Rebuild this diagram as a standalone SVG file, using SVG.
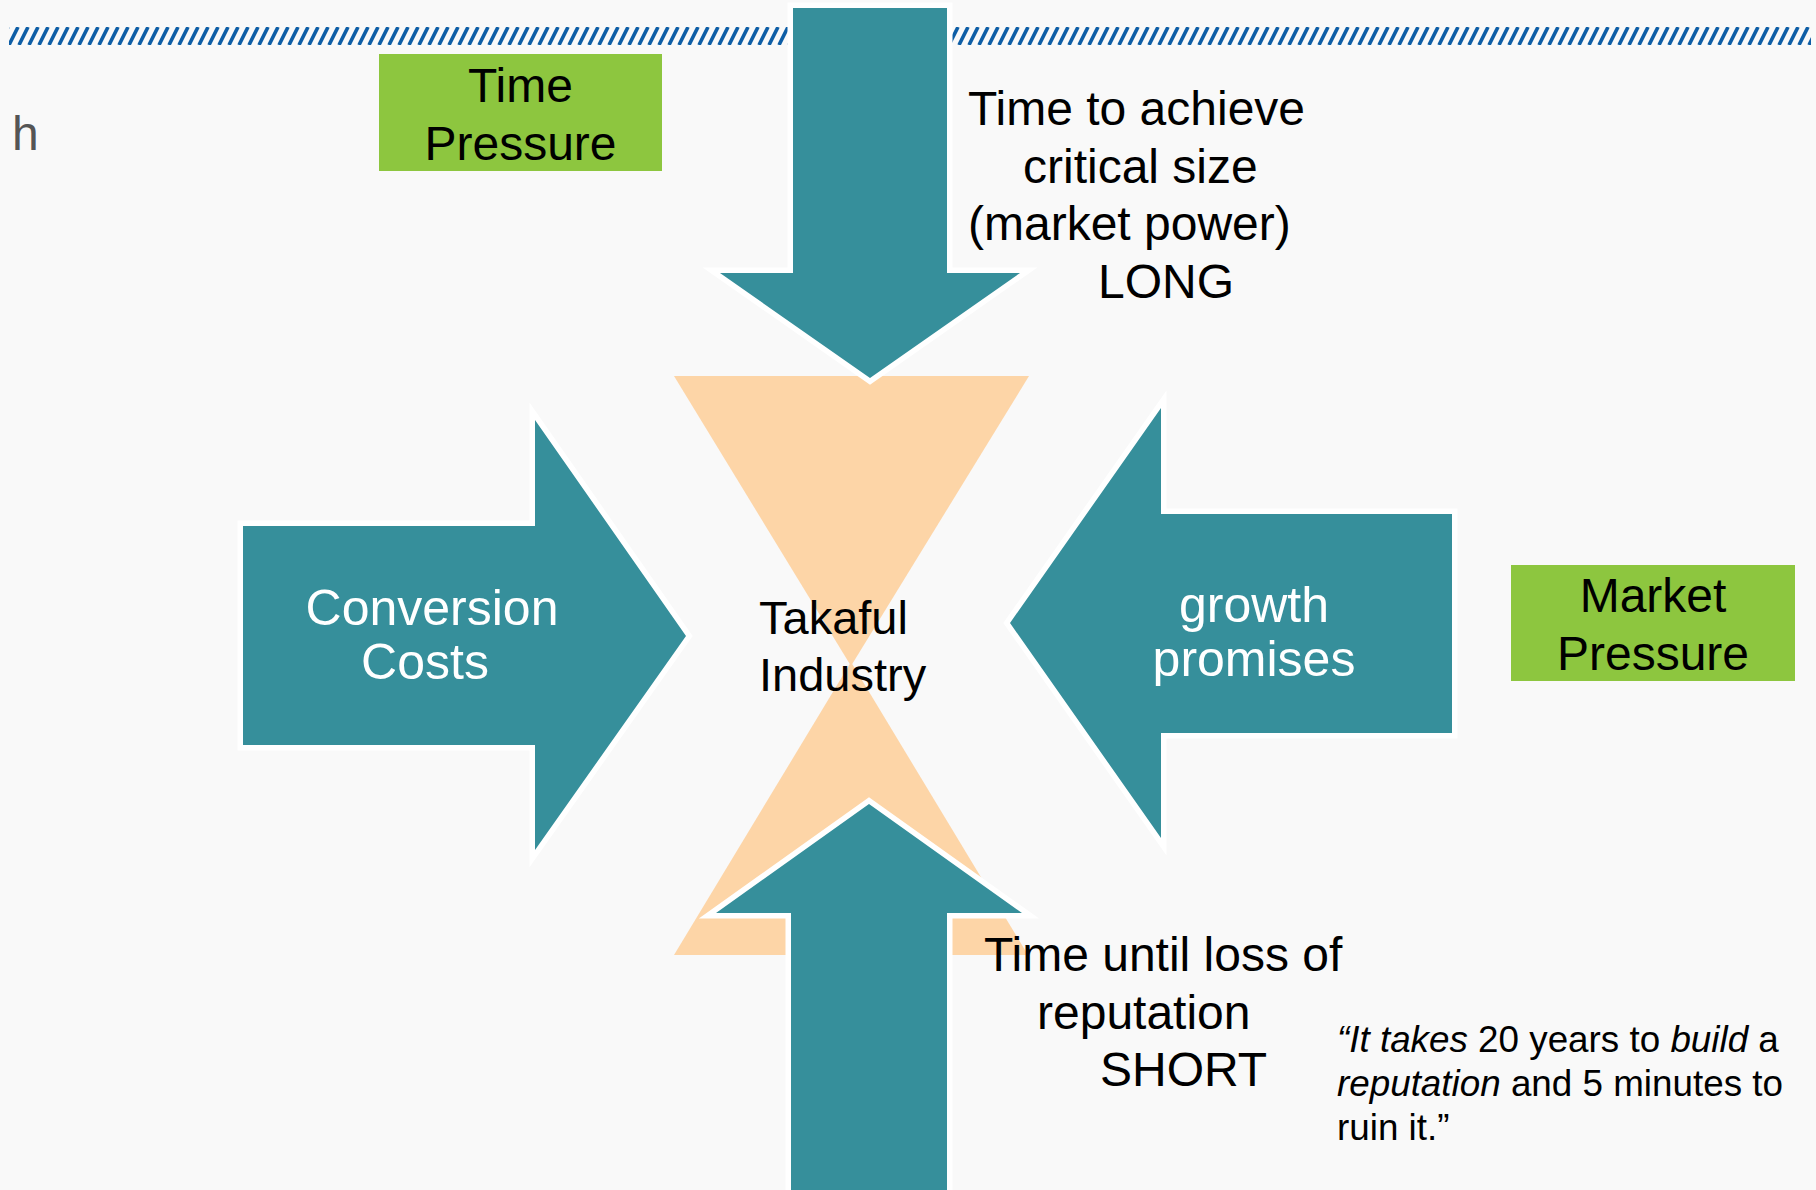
<svg xmlns="http://www.w3.org/2000/svg" width="1816" height="1190" viewBox="0 0 1816 1190">
  <style>
    text { font-family: "Liberation Sans", Arial, Helvetica, sans-serif; }
    .arrow { fill: #368F9B; stroke: #FFFFFF; stroke-width: 11; stroke-linejoin: miter; stroke-miterlimit: 10; paint-order: stroke; }
    .sand { fill: #FDD5A7; }
    .box { fill: #8DC63F; }
    .lbl { font-size: 48px; fill: #000000; }
    .wht { font-size: 50px; fill: #FFFFFF; text-anchor: middle; }
    .mid { text-anchor: middle; }
    .quote { font-size: 36.8px; fill: #000000; }
    .it { font-style: italic; }
  </style>
  <defs>
    <pattern id="hatch" patternUnits="userSpaceOnUse" x="9" y="27" width="10" height="18">
      <path d="M0,18 L9,0 M10,18 L19,0 M-10,18 L-1,0" stroke="#0E5EA6" stroke-width="3.6" fill="none"/>
    </pattern>
  </defs>

  <rect x="0" y="0" width="1816" height="1190" fill="#F9F9F9"/>
  <rect id="hatch-band" x="9" y="27" width="1802" height="18" fill="url(#hatch)"/>

  <g id="stray-text">
    <text x="12" y="150" style="font-size:48px;fill:#555555">h</text>
  </g>

  <g id="hourglass">
    <polygon class="sand" points="674,376 1029,376 851,666"/>
    <polygon class="sand" points="674,955 1028,955 851,662"/>
    <text class="lbl" x="759" y="634" style="font-size:47px">Takaful</text>
    <text class="lbl" x="759" y="691" style="font-size:47px">Industry</text>
  </g>

  <g id="connectors"></g>

  <g id="arrow-top">
    <polygon class="arrow" points="793,8 947,8 947,273 1020,273 870,378 720,273 793,273"/>
  </g>

  <g id="arrow-left">
    <polygon class="arrow" points="243,526 535,526 535,420 686,636 535,850 535,745 243,745"/>
    <text class="wht" x="432" y="625">Conversion</text>
    <text class="wht" x="425" y="679">Costs</text>
  </g>

  <g id="arrow-right">
    <polygon class="arrow" points="1452,514 1161,514 1161,408 1010,623 1161,838 1161,733 1452,733"/>
    <text class="wht" x="1254" y="622">growth</text>
    <text class="wht" x="1254" y="676">promises</text>
  </g>

  <g id="arrow-bottom">
    <polygon class="arrow" points="791,1205 791,913 716,913 869,804 1022,913 947,913 947,1205"/>
  </g>

  <g id="time-pressure">
    <rect class="box" x="379" y="54" width="283" height="117"/>
    <text class="lbl mid" x="520.5" y="102">Time</text>
    <text class="lbl mid" x="520.5" y="160">Pressure</text>
  </g>

  <g id="market-pressure">
    <rect class="box" x="1511" y="565" width="284" height="116"/>
    <text class="lbl mid" x="1653" y="612">Market</text>
    <text class="lbl mid" x="1653" y="670">Pressure</text>
  </g>

  <g id="label-long">
    <text class="lbl" x="968" y="125">Time to achieve</text>
    <text class="lbl" x="1023" y="183">critical size</text>
    <text class="lbl" x="968" y="240">(market power)</text>
    <text class="lbl" x="1098" y="298">LONG</text>
  </g>

  <g id="label-short">
    <text class="lbl" x="984" y="971">Time until loss of</text>
    <text class="lbl" x="1037" y="1029">reputation</text>
    <text class="lbl" x="1100" y="1086">SHORT</text>
  </g>

  <g id="quote">
    <text class="quote" x="1337" y="1052"><tspan class="it">“It takes</tspan> 20 years to <tspan class="it">build</tspan> a</text>
    <text class="quote" x="1337" y="1096"><tspan class="it">reputation</tspan> and 5 minutes to</text>
    <text class="quote" x="1337" y="1140">ruin it.”</text>
  </g>
</svg>
